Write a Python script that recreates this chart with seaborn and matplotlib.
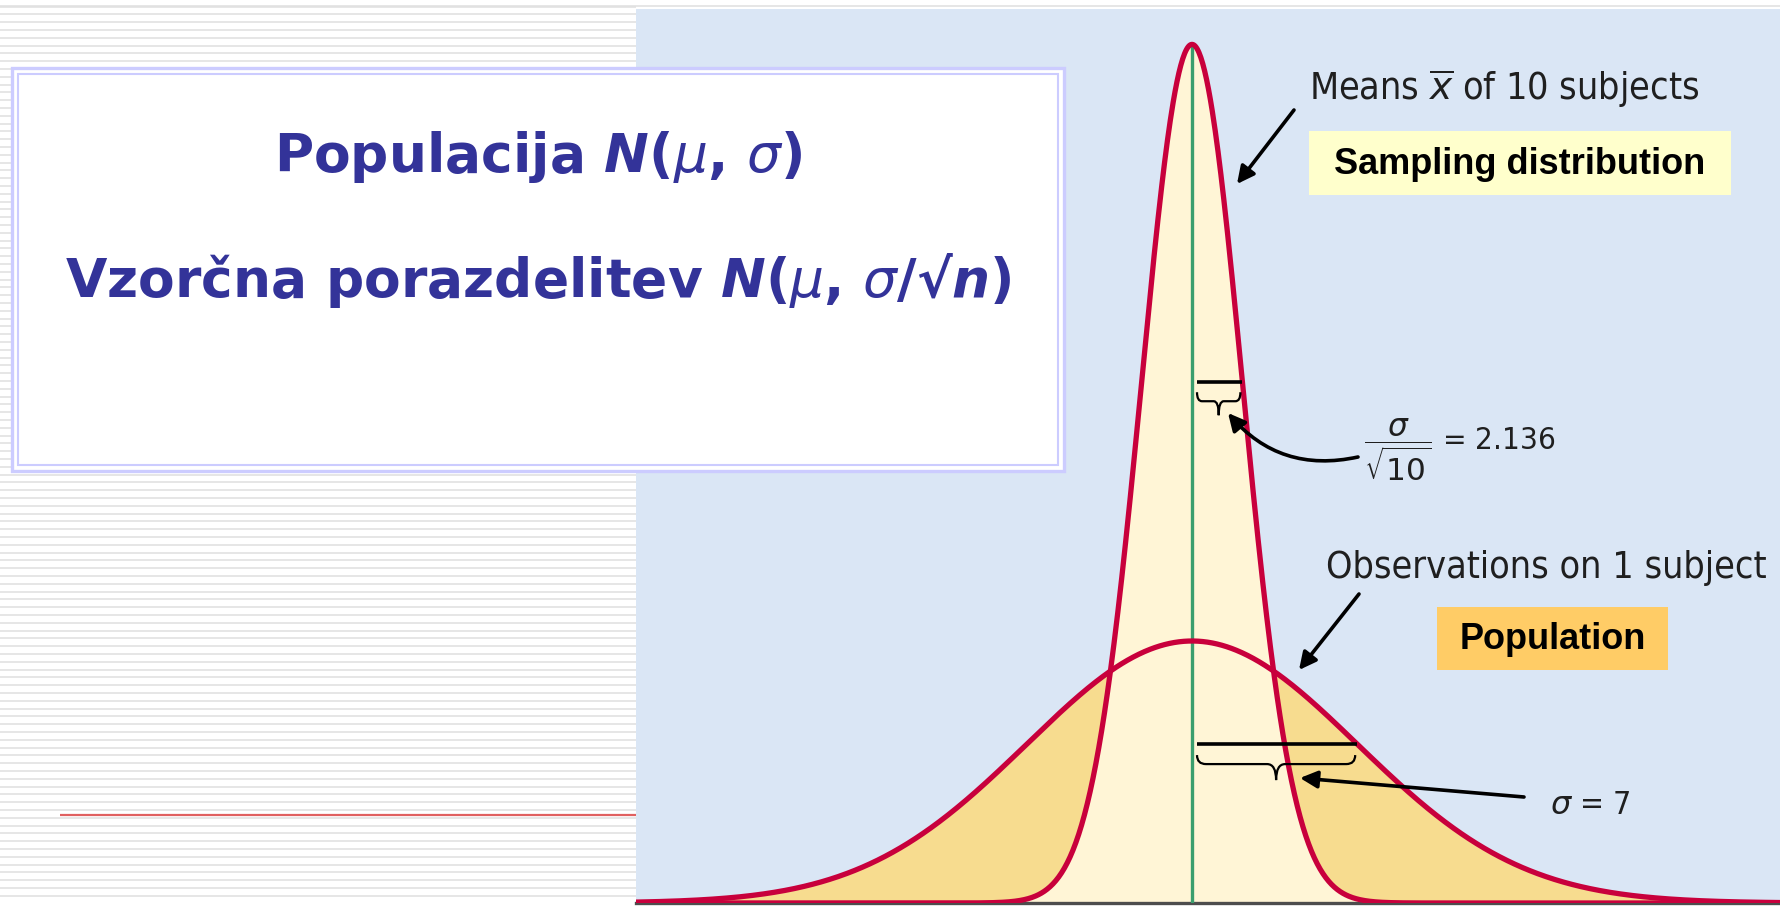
import numpy as np
import pandas as pd
import matplotlib
matplotlib.use("Agg")
import matplotlib.pyplot as plt
import seaborn as sns
from matplotlib.patches import Rectangle, PathPatch
from matplotlib.path import Path

# --- distribution parameters -------------------------------------------
mu = 0.0
sigma_pop = 7.0
n_subjects = 10
sigma_mean = 2.136          # sigma / sqrt(n)

curve_names = ["Population", "Sampling distribution"]
curve_sigmas = [sigma_pop, sigma_mean]

title_lines = [
    r"Populacija $\mathbfit{N}$($\mu$, $\sigma$)",
    r"Vzorčna porazdelitev $\mathbfit{N}$($\mu$, $\sigma$/√$\mathbfit{n}$)",
]
means_label = r"Means $\overline{x}$ of 10 subjects"
obs_label = "Observations on 1 subject"
se_label = r"$\dfrac{\sigma}{\sqrt{10}}$ = 2.136"
sd_label = r"$\sigma$ = 7"

# --- styling --------------------------------------------------------------
sns.set_theme(style="white")
plt.rcParams["font.family"] = ["DejaVu Sans"]
plt.rcParams["mathtext.fontset"] = "dejavusans"

W, H = 1780, 906
fig = plt.figure(figsize=(W / 100, H / 100), dpi=100)
fig.patch.set_facecolor("white")

BLUE = "#dae6f5"
CREAM = "#fff5d6"
GOLD = "#f7dc8f"
RED = "#c8003c"
GREEN = "#3a9e6e"
NAVY = "#333399"

# panel geometry (pixels)
PX0, PX1, PY0, PY1 = 636, 1780, 9, 903

# --- background: striped slide --------------------------------------------
bg = fig.add_axes([0, 0, 1, 1], zorder=0)
bg.set_xlim(0, W)
bg.set_ylim(H, 0)
bg.axis("off")
bg.hlines(np.arange(6.5, 903, 7.8), 0, PX0, color="#e1e1e1", lw=1.2)
bg.hlines(6, 0, W, color="#e1e1e1", lw=1.2)
bg.hlines(815, 60, PX0, color="#e06060", lw=1.6)

# --- distributions --------------------------------------------------------
px_per_unit = 23.6
xmin = mu - (1192 - PX0) / px_per_unit
xmax = mu + (PX1 - 1192) / px_per_unit
pop_peak = 1 / (sigma_pop * np.sqrt(2 * np.pi))
ytop = pop_peak * (PY1 - PY0) / 262.0

x = np.linspace(xmin, xmax, 1200)


def npdf(v, s):
    return np.exp(-0.5 * ((v - mu) / s) ** 2) / (s * np.sqrt(2 * np.pi))


df = pd.concat([
    pd.DataFrame({"x": x, "density": npdf(x, s), "curve": name})
    for name, s in zip(curve_names, curve_sigmas)
])

ax = fig.add_axes([PX0 / W, (H - PY1) / H, (PX1 - PX0) / W, (PY1 - PY0) / H],
                  zorder=1)
ax.set_facecolor(BLUE)
ax.fill_between(x, npdf(x, sigma_pop), color=GOLD, lw=0)
ax.fill_between(x, npdf(x, sigma_mean), color=CREAM, lw=0)
ax.vlines(mu, 0, npdf(mu, sigma_mean), color=GREEN, lw=2.4, zorder=3)
sns.lineplot(data=df, x="x", y="density", hue="curve",
             palette=[RED, RED], lw=3.8, legend=False, ax=ax, zorder=4,
             sort=False, estimator=None)

# one-sigma markers at the inflection height of each curve
for s in curve_sigmas:
    ax.hlines(npdf(mu + s, s), mu + 0.2, mu + s, color="black", lw=2.6, zorder=5)

ax.set_xlim(xmin, xmax)
ax.set_ylim(0, ytop)
ax.set_xticks([])
ax.set_yticks([])
ax.set_xlabel("")
ax.set_ylabel("")
for side in ["top", "left", "right"]:
    ax.spines[side].set_visible(False)
ax.spines["bottom"].set_color("#4d4d4d")
ax.spines["bottom"].set_linewidth(2.4)


def to_px(xv, yv):
    return (PX0 + (xv - xmin) / (xmax - xmin) * (PX1 - PX0),
            PY1 - yv / ytop * (PY1 - PY0))


# --- overlay: title box, braces, arrows, labels ---------------------------
ov = fig.add_axes([0, 0, 1, 1], zorder=2)
ov.set_xlim(0, W)
ov.set_ylim(H, 0)
ov.axis("off")
ov.patch.set_alpha(0)

ov.add_patch(Rectangle((12, 68), 1052, 403, fc="white", ec="#ccccff", lw=2.4))
ov.add_patch(Rectangle((18, 74), 1040, 391, fc="none", ec="#ccccff", lw=1.5))
for ty, line in zip([157, 280], title_lines):
    ov.text(538, ty, line, ha="center", va="center", fontsize=38.5,
            fontweight="bold", color=NAVY)


def brace(x0, x1, y_top, y_flat, y_tip, r):
    xm = (x0 + x1) / 2
    verts = [(x0, y_top), (x0, y_flat), (x0 + r, y_flat),
             (xm - r, y_flat), (xm, y_flat), (xm, y_tip),
             (xm, y_flat), (xm + r, y_flat),
             (x1 - r, y_flat), (x1, y_flat), (x1, y_top)]
    codes = [Path.MOVETO, Path.CURVE3, Path.CURVE3,
             Path.LINETO, Path.CURVE3, Path.CURVE3,
             Path.CURVE3, Path.CURVE3,
             Path.LINETO, Path.CURVE3, Path.CURVE3]
    ov.add_patch(PathPatch(Path(verts, codes), fc="none", ec="black", lw=1.6))


for s, gap, depth, r in [(sigma_mean, 10, 14, 5), (sigma_pop, 11, 16, 9)]:
    xa, ya = to_px(mu, npdf(mu + s, s))
    xb, _ = to_px(mu + s, 0)
    brace(xa + 5, xb - 2, ya + gap, ya + gap + 9, ya + gap + 9 + depth, r)

arrow_kw = dict(arrowstyle="-|>", color="black", lw=2.6, mutation_scale=26,
                shrinkA=0, shrinkB=0)
ov.annotate("", xy=(1237, 184), xytext=(1294, 110), arrowprops=arrow_kw)
ov.annotate("", xy=(1228, 413), xytext=(1358, 457),
            arrowprops=dict(arrow_kw, connectionstyle="arc3,rad=-0.3"))
ov.annotate("", xy=(1299, 670), xytext=(1359, 594), arrowprops=arrow_kw)
ov.annotate("", xy=(1300, 778), xytext=(1524, 797), arrowprops=arrow_kw)

text_kw = dict(color="#1f1f1f", fontstretch="condensed", va="center", ha="left")
ov.text(1309, 89, means_label, fontsize=27, **text_kw)
ov.text(1326, 568, obs_label, fontsize=27, **text_kw)
ov.text(1364, 450, se_label, fontsize=22.5, **text_kw)
ov.text(1550, 806, sd_label, fontsize=23, **text_kw)

for (bx, by, bw, bh), col, name in [((1309, 131, 422, 64), "#ffffcc", "Sampling distribution"),
                                     ((1437, 607, 231, 63), "#ffcc66", "Population")]:
    ov.add_patch(Rectangle((bx, by), bw, bh, fc=col, ec="none"))
    ov.text(bx + bw / 2, by + bh / 2 + 1, name, ha="center", va="center",
            fontsize=26, fontweight="bold", family="Liberation Sans", color="black")

fig.savefig("out.png", dpi=100, facecolor="white")
